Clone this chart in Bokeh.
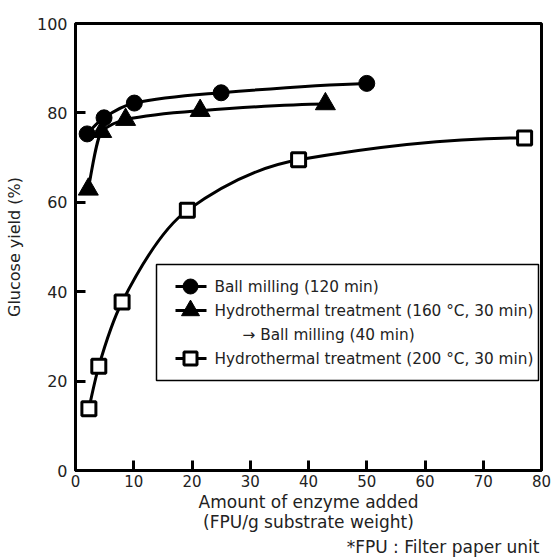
import numpy as np
from bokeh.plotting import figure
from bokeh.models import Range1d, FixedTicker, Label, Title
from bokeh.embed import file_html
from bokeh.resources import INLINE

FONT = "DejaVu Sans"

# ---- data ----
ball_x = [2.0, 4.9, 10.1, 25.0, 50.0]
ball_y = [75.3, 78.9, 82.2, 84.5, 86.6]

hydro160_x = [2.2, 4.5, 8.6, 21.4, 42.9]
hydro160_y = [62.9, 75.8, 78.5, 80.5, 82.0]

hydro200_x = [2.3, 4.0, 8.0, 19.2, 38.3, 77.1]
hydro200_y = [13.8, 23.3, 37.7, 58.2, 69.5, 74.4]

x_ticks = [0, 10, 20, 30, 40, 50, 60, 70, 80]
y_ticks = [0, 20, 40, 60, 80, 100]

legend_labels = ["Ball milling (120 min)",
                 "Hydrothermal treatment (160 \u00b0C, 30 min)",
                 "\u2192 Ball milling (40 min)",
                 "Hydrothermal treatment (200 \u00b0C, 30 min)"]


def pchip_slopes(x, y):
    x = np.asarray(x, float); y = np.asarray(y, float)
    h = np.diff(x); d = np.diff(y) / h
    n = len(x); m = np.zeros(n)
    for k in range(1, n - 1):
        if d[k - 1] * d[k] <= 0:
            m[k] = 0
        else:
            w1 = 2 * h[k] + h[k - 1]; w2 = h[k] + 2 * h[k - 1]
            m[k] = (w1 + w2) / (w1 / d[k - 1] + w2 / d[k])
    m0 = ((2 * h[0] + h[1]) * d[0] - h[0] * d[1]) / (h[0] + h[1])
    if np.sign(m0) != np.sign(d[0]):
        m0 = 0
    elif np.sign(d[0]) != np.sign(d[1]) and abs(m0) > abs(3 * d[0]):
        m0 = 3 * d[0]
    m[0] = m0
    mn = ((2 * h[-1] + h[-2]) * d[-1] - h[-1] * d[-2]) / (h[-1] + h[-2])
    if np.sign(mn) != np.sign(d[-1]):
        mn = 0
    m[-1] = mn
    return m


def smooth_curve(p, xs, ys):
    x = np.asarray(xs, float); y = np.asarray(ys, float)
    m = pchip_slopes(x, y)
    h = np.diff(x)
    p.bezier(x0=x[:-1], y0=y[:-1], x1=x[1:], y1=y[1:],
             cx0=x[:-1] + h / 3, cy0=y[:-1] + m[:-1] * h / 3,
             cx1=x[1:] - h / 3, cy1=y[1:] - m[1:] * h / 3,
             line_color="black", line_width=3)


p = figure(width=558, height=559, output_backend="svg", toolbar_location=None,
           x_range=Range1d(0, 80), y_range=Range1d(0, 100),
           min_border_left=75, min_border_right=17, min_border_top=23, min_border_bottom=89)

p.xgrid.visible = False
p.ygrid.visible = False
p.outline_line_color = "black"
p.outline_line_width = 3
p.outline_line_alpha = 1

for ax in (p.xaxis[0], p.yaxis[0]):
    ax.axis_line_width = 3
    ax.major_tick_line_width = 3
    ax.major_tick_in = 10
    ax.major_tick_out = 0
    ax.minor_tick_line_color = None
    ax.major_label_text_font = FONT
    ax.major_label_text_color = "#222222"
    ax.axis_label_text_font = FONT
    ax.axis_label_text_font_style = "normal"
    ax.axis_label_text_color = "#222222"

p.xaxis.axis_label_text_font_size = "17px"
p.yaxis.axis_label_text_font_size = "16px"
p.xaxis.axis_label_text_line_height = 1.0
p.xaxis.major_label_text_font_size = "15px"
p.yaxis.major_label_text_font_size = "16px"
p.xaxis.ticker = FixedTicker(ticks=x_ticks)
p.yaxis.ticker = FixedTicker(ticks=y_ticks)
p.xaxis.axis_label = "Amount of enzyme added\n(FPU/g substrate weight)"
p.yaxis.axis_label = "Glucose yield (%)"
p.xaxis.major_label_standoff = 4
p.yaxis.major_label_standoff = 8
p.xaxis.axis_label_standoff = 2
p.yaxis.axis_label_standoff = 10

# curves
smooth_curve(p, ball_x, ball_y)
smooth_curve(p, hydro160_x, hydro160_y)
smooth_curve(p, hydro200_x, hydro200_y)

# markers
p.scatter(ball_x, ball_y, marker="circle", size=16, fill_color="black", line_color="black")
p.scatter(hydro160_x, hydro160_y, marker="triangle", size=20, fill_color="black", line_color="black")
p.scatter(hydro200_x, hydro200_y, marker="square", size=14, fill_color="white",
          line_color="black", line_width=3)

# ---- legend (manual, placed in data units of the fixed ranges) ----
sx = 80 / 466.0   # data per pixel in x
sy = 100 / 447.0  # data per pixel in y
def dx(px):
    return (px - 75) * sx
def dy(py):
    return (470 - py) * sy

p.quad(left=[dx(156)], right=[dx(538)], top=[dy(264)], bottom=[dy(380)],
       fill_color="white", line_color="black", line_width=1.5)

rows = [286, 310, 334, 358]
for py in (rows[0], rows[1], rows[3]):
    p.line([dx(175), dx(206)], [dy(py), dy(py)], line_color="black", line_width=3)
p.scatter([dx(190)], [dy(rows[0])], marker="circle", size=15, fill_color="black",
          line_color="black")
p.scatter([dx(190)], [dy(rows[1])], marker="triangle", size=18, fill_color="black",
          line_color="black")
p.scatter([dx(190)], [dy(rows[3])], marker="square", size=13, fill_color="white",
          line_color="black", line_width=3)

text_x = [214, 214, 242, 214]
for lab, tx, py in zip(legend_labels, text_x, rows):
    p.add_layout(Label(x=dx(tx), y=dy(py), text=lab, text_font=FONT, text_font_size="15.3px",
                       text_baseline="middle", text_align="left", text_color="#222222"))

p.add_layout(Title(text="*FPU : Filter paper unit", align="right", text_font=FONT,
                   text_font_size="17px", text_font_style="normal", text_color="#222222",
                   text_line_height=1.0, standoff=0, offset=2), "below")

open("out.html", "w").write(file_html(p, INLINE))
